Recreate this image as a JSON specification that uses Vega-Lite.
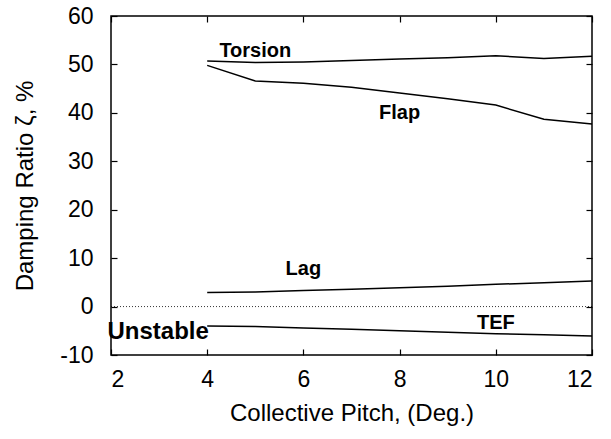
{
  "$schema": "https://vega.github.io/schema/vega-lite/v6.json",
  "width": 481,
  "height": 339,
  "autosize": "none",
  "padding": {"left": 111, "top": 16, "right": 19, "bottom": 84},
  "background": "white",
  "config": {
    "view": {"stroke": "black", "strokeWidth": 1.5},
    "font": "Liberation Sans",
    "axis": {"grid": false, "domain": false, "labelFont": "Liberation Sans", "titleFont": "Liberation Sans", "labelFontSize": 23, "titleFontSize": 24, "titleFontWeight": "normal", "labelColor": "black", "titleColor": "black", "tickColor": "black", "tickWidth": 1.2}
  },
  "datasets": {
    "curves": [
      {"series": "Torsion", "x": 4, "y": 50.7},
      {"series": "Torsion", "x": 5, "y": 50.4},
      {"series": "Torsion", "x": 6, "y": 50.5},
      {"series": "Torsion", "x": 7, "y": 50.8},
      {"series": "Torsion", "x": 8, "y": 51.1},
      {"series": "Torsion", "x": 9, "y": 51.4},
      {"series": "Torsion", "x": 10, "y": 51.8},
      {"series": "Torsion", "x": 11, "y": 51.2},
      {"series": "Torsion", "x": 12, "y": 51.7},
      {"series": "Flap", "x": 4, "y": 49.8},
      {"series": "Flap", "x": 5, "y": 46.6},
      {"series": "Flap", "x": 6, "y": 46.1},
      {"series": "Flap", "x": 7, "y": 45.3},
      {"series": "Flap", "x": 8, "y": 44.1},
      {"series": "Flap", "x": 9, "y": 42.9},
      {"series": "Flap", "x": 10, "y": 41.6},
      {"series": "Flap", "x": 11, "y": 38.7},
      {"series": "Flap", "x": 12, "y": 37.7},
      {"series": "Lag", "x": 4, "y": 2.9},
      {"series": "Lag", "x": 5, "y": 3.0},
      {"series": "Lag", "x": 6, "y": 3.3},
      {"series": "Lag", "x": 7, "y": 3.6},
      {"series": "Lag", "x": 8, "y": 3.9},
      {"series": "Lag", "x": 9, "y": 4.2},
      {"series": "Lag", "x": 10, "y": 4.6},
      {"series": "Lag", "x": 11, "y": 4.9},
      {"series": "Lag", "x": 12, "y": 5.3},
      {"series": "TEF", "x": 4, "y": -4.0},
      {"series": "TEF", "x": 5, "y": -4.1},
      {"series": "TEF", "x": 6, "y": -4.4},
      {"series": "TEF", "x": 7, "y": -4.7},
      {"series": "TEF", "x": 8, "y": -5.0},
      {"series": "TEF", "x": 9, "y": -5.3},
      {"series": "TEF", "x": 10, "y": -5.6},
      {"series": "TEF", "x": 11, "y": -5.8},
      {"series": "TEF", "x": 12, "y": -6.1}
    ],
    "zero": [{"x": 2, "y": 0}, {"x": 12, "y": 0}],
    "labels": [
      {"text": "Torsion", "x": 5, "y": 51.5, "size": 20},
      {"text": "Flap", "x": 8, "y": 38.7, "size": 20},
      {"text": "Lag", "x": 6, "y": 6.5, "size": 20},
      {"text": "TEF", "x": 10, "y": -4.6, "size": 20},
      {"text": "Unstable", "x": 2.98, "y": -6.7, "size": 24}
    ]
  },
  "layer": [
    {
      "data": {"name": "zero"},
      "mark": {"type": "line", "color": "black", "strokeWidth": 0.8, "strokeDash": [1, 2]},
      "encoding": {
        "x": {"field": "x", "type": "quantitative", "scale": {"domain": [2, 12], "nice": false}, "axis": {"orient": "bottom", "title": "Collective Pitch, (Deg.)", "values": [2, 4, 6, 8, 10, 12], "tickSize": -6, "labelPadding": 19, "titlePadding": 10, "labelExpr": "toString(datum.value)"}},
        "y": {"field": "y", "type": "quantitative", "scale": {"domain": [-10, 60], "nice": false}, "axis": {"orient": "left", "title": "Damping Ratio ζ, %", "values": [-10, 0, 10, 20, 30, 40, 50, 60], "tickSize": -6, "labelPadding": 24, "titlePadding": 22, "labelExpr": "toString(datum.value)"}}
      }
    },
    {
      "data": {"name": "curves"},
      "mark": {"type": "line", "color": "black", "strokeWidth": 1.5},
      "encoding": {
        "detail": {"field": "series"},
        "x": {"field": "x", "type": "quantitative", "scale": {"domain": [2, 12], "nice": false}, "axis": {"orient": "top", "title": null, "labels": false, "values": [2, 4, 6, 8, 10, 12], "tickSize": -6}},
        "y": {"field": "y", "type": "quantitative", "scale": {"domain": [-10, 60], "nice": false}, "axis": {"orient": "right", "title": null, "labels": false, "values": [-10, 0, 10, 20, 30, 40, 50, 60], "tickSize": -6}}
      }
    },
    {
      "data": {"name": "labels"},
      "mark": {"type": "text", "font": "Liberation Sans", "fontWeight": "bold", "color": "black", "baseline": "alphabetic"},
      "encoding": {
        "text": {"field": "text"},
        "size": {"field": "size", "type": "quantitative", "scale": null, "legend": null},
        "x": {"field": "x", "type": "quantitative", "axis": null},
        "y": {"field": "y", "type": "quantitative", "axis": null}
      }
    }
  ],
  "resolve": {"axis": {"x": "independent", "y": "independent"}}
}
